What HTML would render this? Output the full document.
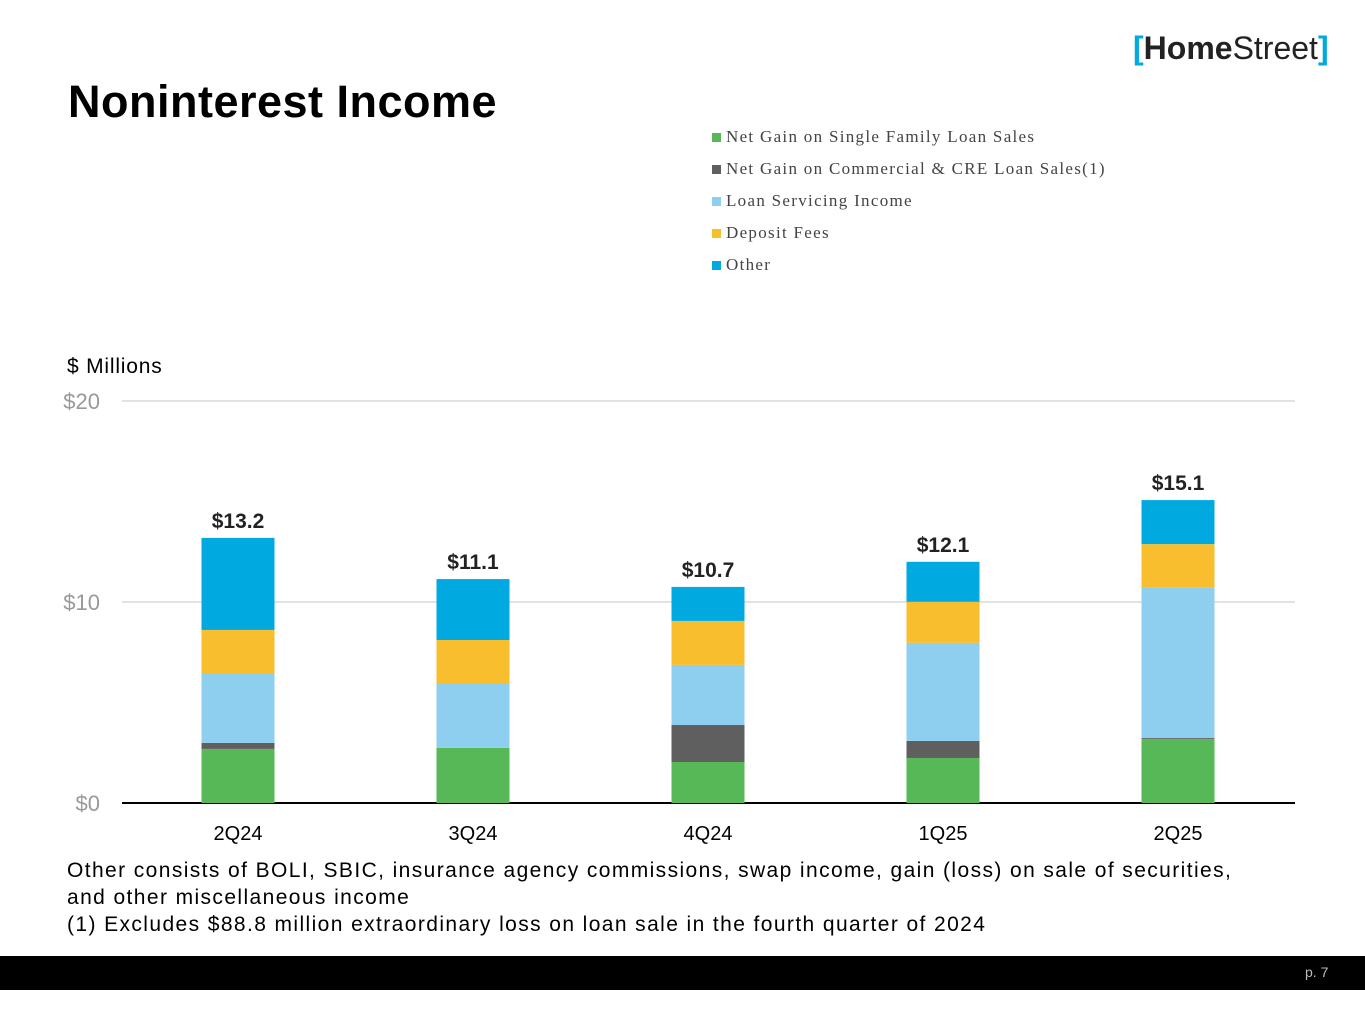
<!DOCTYPE html>
<html><head><meta charset="utf-8"><style>
body{margin:0;width:1365px;height:1024px;background:#fff;position:relative;overflow:hidden;font-family:"Liberation Sans",sans-serif}
.t{position:absolute;white-space:nowrap}
</style></head><body>
<div class="t" style="left:68px;top:76px;font-size:45px;font-weight:bold;color:#000;letter-spacing:0.5px">Noninterest Income</div>
<div class="t" style="left:1133px;top:30px;font-size:32px;color:#222"><span style="color:#00a9e0;font-weight:bold">[</span><b>Home</b>Street<span style="color:#00a9e0;font-weight:bold">]</span></div>
<div style="position:absolute;left:712px;top:127px;font-family:'Liberation Serif',serif;font-size:17px;letter-spacing:1.3px;color:#444">
<div style="height:32px"><span style="display:inline-block;width:9px;height:9px;background:#56b856;margin-right:5px"></span>Net Gain on Single Family Loan Sales</div>
<div style="height:32px"><span style="display:inline-block;width:9px;height:9px;background:#5f5f5f;margin-right:5px"></span>Net Gain on Commercial &amp; CRE Loan Sales(1)</div>
<div style="height:32px"><span style="display:inline-block;width:9px;height:9px;background:#8ecff0;margin-right:5px"></span>Loan Servicing Income</div>
<div style="height:32px"><span style="display:inline-block;width:9px;height:9px;background:#f8be2e;margin-right:5px"></span>Deposit Fees</div>
<div style="height:32px"><span style="display:inline-block;width:9px;height:9px;background:#00a9e0;margin-right:5px"></span>Other</div>
</div>
<div class="t" style="left:67px;top:355px;font-size:21px;color:#000;letter-spacing:0.8px">$ Millions</div>
<svg id="chart" width="1365" height="860" style="position:absolute;left:0;top:0"></svg>
<div class="t" style="left:67px;top:857px;font-size:21px;line-height:27px;color:#000;letter-spacing:1.4px">Other consists of BOLI, SBIC, insurance agency commissions, swap income, gain (loss) on sale of securities,<br>and other miscellaneous income<br>(1) Excludes $88.8 million extraordinary loss on loan sale in the fourth quarter of 2024</div>
<div style="position:absolute;left:0;top:956px;width:1365px;height:34px;background:#000"></div>
<div class="t" style="left:1305px;top:964px;font-size:14px;color:#bbb">p. 7</div>
<script>
const categories=["2Q24","3Q24","4Q24","1Q25","2Q25"];
const sfLoan=[2.69,2.74,2.04,2.24,3.18];
const creLoan=[0.3,0,1.84,0.85,0.05];
const servicing=[3.43,3.18,2.99,4.88,7.51];
const deposit=[2.19,2.19,2.19,2.04,2.14];
const other=[4.58,3.03,1.69,1.99,2.19];
const totals=["$13.2","$11.1","$10.7","$12.1","$15.1"];
const yTicks=[0,10,20];
const NS="http://www.w3.org/2000/svg",svg=document.getElementById('chart');
const y=v=>803-v*20.1, x=i=>238+i*235;
function mk(t,a){const e=document.createElementNS(NS,t);for(const k in a)e.setAttribute(k,a[k]);svg.appendChild(e);return e;}
yTicks.forEach(v=>{
 const l=mk('line',{x1:122,x2:1295,y1:y(v),y2:y(v),stroke:v===0?'#000':'#d9d9d9','stroke-width':v===0?2:1.5});
 
 
 const t=mk('text',{x:100,y:y(v)+8,'text-anchor':'end','font-size':22,fill:'#999','font-family':'Liberation Sans'});
 t.textContent='$'+v;
 
 
});
const series=[[sfLoan,'#56b856'],[creLoan,'#5f5f5f'],[servicing,'#8ecff0'],[deposit,'#f8be2e'],[other,'#00a9e0']];
categories.forEach((c,i)=>{
 let base=0;
 series.forEach(([arr,col])=>{
  const v=arr[i];
  const r=mk('rect',{x:x(i)-36.5,width:73,y:y(base+v),height:v*20.1,fill:col});
  
  
  base+=v;
 });
 const t=mk('text',{x:x(i),y:y(base)-10,'text-anchor':'middle','font-size':21,'font-weight':'bold',fill:'#222','font-family':'Liberation Sans'});
 t.textContent=totals[i];
 
 
 const lt=mk('text',{x:x(i),y:840,'text-anchor':'middle','font-size':20,fill:'#000','font-family':'Liberation Sans'});
 lt.textContent=c;
 
 
});
</script>
</body></html>
